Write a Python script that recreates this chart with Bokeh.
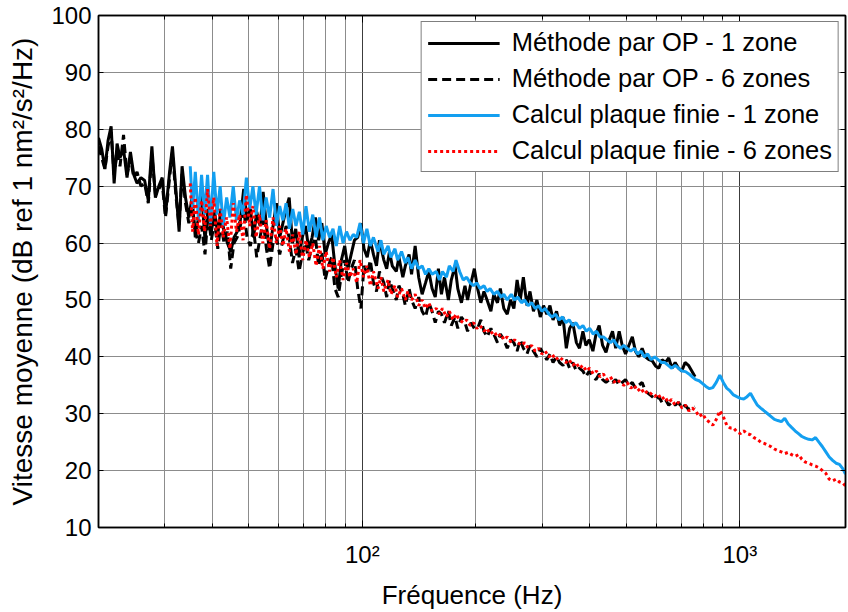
from bokeh.plotting import figure
from bokeh.models import FixedTicker, LogAxis, LinearAxis, Range1d, CustomJSTickFormatter
from bokeh.embed import file_html
from bokeh.resources import INLINE

# ---------------- data ----------------
x_major = [100, 1000]
x_tick_labels = ["10\u00b2", "10\u00b3"]
x_minor = [20, 30, 40, 50, 60, 70, 80, 90, 200, 300, 400, 500, 600, 700, 800, 900]
y_ticks = [10, 20, 30, 40, 50, 60, 70, 80, 90, 100]

series_names = ["Méthode par OP - 1 zone", "Méthode par OP - 6 zones",
                "Calcul plaque finie - 1 zone", "Calcul plaque finie - 6 zones"]

# frequencies of the "Méthode par OP" curves (Hz)
f_op = [20.0, 20.4, 20.8, 21.2, 21.6, 22.0, 22.4, 22.8, 23.3, 23.8,
        24.3, 24.8, 25.3, 25.9, 26.5, 27.1, 27.7, 28.3, 28.9, 29.5,
        30.1, 30.8, 31.4, 32.1, 32.7, 33.3, 34.0, 34.7, 35.4, 36.1,
        36.8, 37.5, 38.3, 39.0, 39.8, 40.6, 41.4, 42.2, 43.0, 43.9,
        44.8, 45.7, 46.6, 47.5, 48.5, 49.5, 50.5, 51.5, 52.5, 53.6,
        54.6, 55.7, 56.8, 58.0, 59.2, 60.4, 61.6, 62.8, 64.0, 65.3,
        66.6, 68.0, 69.3, 70.7, 72.1, 73.6, 75.1, 76.6, 78.1, 79.7,
        81.3, 82.9, 84.6, 86.3, 88.0, 89.8, 91.6, 93.4, 95.3, 97.2,
        99.1, 101, 103, 105, 107, 109, 111, 114, 116, 118,
        120, 123, 125, 128, 130, 133, 135, 138, 141, 144,
        147, 150, 153, 156, 159, 162, 165, 169, 172, 176,
        179, 183, 187, 190, 194, 198, 202, 206, 210, 214,
        219, 223, 228, 232, 237, 242, 247, 252, 257, 262,
        267, 273, 278, 284, 290, 296, 302, 308, 314, 320,
        327, 333, 340, 347, 354, 361, 369, 376, 384, 391,
        399, 408, 416, 424, 433, 442, 451, 460, 469, 479,
        488, 498, 508, 519, 529, 540, 551, 562, 574, 586,
        598, 610, 622, 635, 648, 661, 674, 688, 702, 716,
        731, 746, 761]

v_op1 = [78.5, 76.5, 73, 78, 80.5, 70.5, 77.5, 75, 76.5, 71.5,
         76, 72, 70.5, 71.5, 71, 67.5, 77, 68, 70, 71.5,
         65, 72, 77, 69, 62, 73.5, 68, 64.5, 68, 61,
         64.5, 69, 60.5, 66, 62, 65.5, 61.5, 66, 62, 60,
         58.5, 61, 62, 64, 69.5, 64, 66, 61, 65.5, 63,
         69, 63, 58.5, 63, 67, 61, 63.5, 66, 68, 60,
         62.5, 57.5, 61, 63, 59, 61, 64.5, 60.5, 63.5, 58,
         60, 61.5, 56, 52, 57, 59.5, 55.5, 58, 60.5, 61,
         63.5, 59, 57.5, 60.5, 58, 56, 60.5, 57, 55.5, 58.5,
         56, 55, 57.5, 54, 56, 58, 54.5, 59.5, 54, 51,
         53, 55, 52, 50.5, 55.5, 51, 54, 50, 53.5, 56,
         52, 49.5, 52.5, 50, 53, 55.5, 52, 49.5, 51.5, 50,
         48, 51, 49.5, 52, 48.5, 47.5, 50, 48.5, 53.5, 50,
         54, 49, 51.5, 48, 50, 47, 49, 47.5, 49, 46.5,
         48, 45.5, 47, 41.5, 45, 46, 42.5, 41.5, 44.5, 42,
         43, 41, 44, 45.5, 42, 40.8, 43, 44.5, 41.5, 44.5,
         42, 40.5, 42, 43.5, 41, 40, 41.5, 40, 39.5, 39.3,
         38.4, 38, 39.5, 39, 39.8, 38, 39, 38, 37.5, 39,
         38.5, 37.5, 36.5]

v_op6 = [77, 75, 73, 77, 79.5, 72, 76, 73.5, 79, 72,
         75, 71.5, 72.5, 70, 70.5, 67, 75.5, 68.5, 69.5, 70.5,
         64.5, 71, 76, 68, 63, 72.5, 67, 63.5, 66, 62,
         60, 63, 58, 65, 60.5, 64, 59, 63.5, 60, 62,
         55.5, 60, 61, 63, 66, 61, 59.5, 62.5, 57.5, 61,
         64, 59, 55.5, 60, 61, 58, 60.5, 63, 61, 56.5,
         59, 55, 58, 60, 57, 59.5, 61, 56, 58.5, 53.5,
         56, 57.5, 52, 50.5, 54.5, 57, 53, 55.5, 57, 52,
         48.5, 56, 54.5, 57, 53, 51.5, 55, 53, 50.5, 53.5,
         52, 50, 52.5, 51, 49, 52, 50, 48.5, 50.5, 48,
         47, 49.5, 48, 46, 48, 47.5, 46, 48, 45.5, 47,
         45, 47, 46, 44.5, 46, 45, 45, 46.5, 44.5, 43.5,
         45, 44, 42.5, 44, 43, 41.5, 43, 42.5, 41, 43,
         41.5, 40.5, 42, 41, 40, 41.5, 40.5, 39.5, 40.5, 39,
         40, 39, 38.5, 39.5, 38, 39, 37.5, 38, 37.5, 36.5,
         37.5, 36.5, 36, 37, 36, 35.5, 36, 35.5, 36, 35,
         35.5, 36, 35, 35.5, 34.5, 35, 35.5, 34, 33.5, 33,
         32.5, 33, 32, 32.5, 31.5, 32, 31.5, 32, 31, 31.5,
         30.8, 31, 31.2]

# frequencies of the "Calcul plaque finie" curves (Hz)
f_pf = [35.0, 35.5, 36.1, 36.8, 37.5, 38.2, 38.9, 39.6, 40.4, 41.2,
        42.0, 42.8, 43.7, 44.6, 45.5, 46.4, 47.3, 48.3, 49.3, 50.3,
        51.3, 52.3, 53.4, 54.5, 55.6, 56.8, 58.0, 59.2, 60.4, 61.6,
        62.8, 64.1, 65.4, 66.7, 68.1, 69.5, 70.9, 72.4, 73.9, 75.4,
        77.0, 78.6, 80.2, 81.9, 83.6, 85.3, 87.1, 88.9, 90.8, 92.7,
        94.6, 96.6, 98.6, 100.7, 102.8, 105, 107, 110, 112, 114,
        117, 119, 122, 124, 127, 130, 132, 135, 138, 141,
        144, 147, 150, 153, 157, 160, 163, 167, 170, 174,
        177, 181, 185, 189, 193, 197, 201, 205, 210, 214,
        218, 223, 228, 233, 237, 242, 248, 253, 258, 264,
        269, 275, 281, 287, 293, 299, 305, 312, 318, 325,
        332, 339, 346, 353, 361, 368, 376, 384, 392, 400,
        409, 417, 426, 435, 444, 454, 463, 473, 483, 493,
        503, 514, 525, 536, 547, 559, 570, 582, 595, 607,
        620, 633, 646, 660, 674, 688, 703, 718, 733, 748,
        764, 780, 797, 813, 831, 848, 866, 885, 904, 923,
        942, 962, 982, 1003, 1024, 1045, 1067, 1090, 1113, 1136,
        1160, 1185, 1210, 1235, 1261, 1288, 1315, 1343, 1371, 1400,
        1430, 1460, 1491, 1522, 1554, 1587, 1620, 1655, 1690, 1725,
        1761, 1798, 1836, 1875, 1905]

v_pf1 = [73.5, 66, 72.5, 64, 72, 65, 72, 63.5, 72.5, 65,
         70, 63, 68, 64.5, 70, 64, 67.5, 65, 71.5, 66,
         70, 65, 70, 64, 68, 64.5, 69.5, 63, 66.5, 64,
         67, 62.5, 66, 63, 65.5, 61.5, 66.5, 62, 65, 61,
         64.5, 60.5, 63, 61, 62.5, 59.5, 63, 60, 62, 60.5,
         61.5, 61, 63.5, 60, 62.5, 59.5, 61, 58.5, 60.5, 58,
         59.5, 57.5, 59, 57, 58.5, 56.5, 57.5, 55.5, 57, 55.5,
         56, 54.5, 55.5, 54.5, 55, 53.5, 55, 54, 56, 55,
         57, 55, 53.5, 54, 53, 52.5, 53, 52, 52.5, 51.5,
         52, 51, 51.5, 50.5, 51, 50, 51, 50, 50.5, 49.5,
         50, 49, 49.5, 48.5, 49, 48, 48.5, 47.5, 47, 47.5,
         46.5, 47, 46, 46.5, 45.5, 46, 45, 45.5, 44.5, 45,
         44, 44.5, 43.5, 43.5, 43, 42.5, 43, 42, 41.5, 42,
         41.5, 41, 41.5, 40.5, 41, 40, 40.5, 39.5, 40, 39.5,
         39, 39, 38.5, 38, 38.5, 38, 37.5, 37.4, 37, 36.5,
         36, 35.8, 35.3, 34.8, 34.4, 34.6, 35.5, 36.8, 35.5, 34.5,
         34, 33.3, 33, 32.7, 32.6, 33, 33.6, 32.5, 31.5, 31,
         30.5, 30, 29.5, 29, 28.8, 28.6, 29.2, 28.2, 27.6, 27,
         26.5, 26, 25.7, 25.5, 25.4, 25.8, 25, 24.2, 23.3, 22.4,
         21.8, 21.3, 21.1, 20.3, 19.4]

v_pf6 = [70.5, 62, 68, 61.5, 67.5, 62, 69.5, 63, 68, 59.5,
         66, 61, 64.5, 59, 67, 62, 65, 60.5, 68.5, 63,
         66.5, 61, 65, 60, 64, 59, 64.5, 60, 63, 59.5,
         62.5, 58.5, 61.5, 58, 62, 57, 60.5, 57.5, 60, 56,
         59.5, 55.5, 58.5, 55, 57.5, 54, 57, 53.5, 56.5, 54,
         55.5, 53, 57, 54, 56, 52.5, 55, 52, 54, 51.5,
         53.5, 51, 52.5, 50.5, 52, 50, 51.5, 50, 51, 49,
         50, 48.5, 49.5, 48, 48.5, 47.5, 48.5, 47, 48, 46.5,
         47.5, 46.5, 46, 46.5, 45.5, 46, 45, 45.5, 44.5, 45,
         44, 44.5, 43.5, 44, 43, 43.5, 42.5, 43, 42.5, 42,
         42.5, 41.5, 42, 41, 41.5, 40.5, 41, 40, 40.5, 39.5,
         40, 39.5, 39, 39.5, 38.5, 39, 38, 38.5, 37.5, 38,
         37, 37.5, 36.5, 37, 36, 36.5, 35.5, 36, 35.5, 35,
         35.5, 34.5, 35, 34, 34.5, 33.5, 34, 33.5, 33, 33.5,
         32.5, 33, 32, 32.5, 31.5, 32, 31, 31.5, 30.5, 31,
         30.5, 29.5, 30, 29, 28.5, 28, 29, 30.5, 29.5, 28,
         27.5, 27.5, 26.8, 26.5, 27, 26.5, 26.3, 25.8, 25.5, 25,
         24.8, 24.5, 24.2, 23.8, 23.5, 23.3, 23, 23.2, 22.8, 22.5,
         22.8, 22, 21.5, 21.3, 21, 20.8, 20.5, 20, 19.5, 18.5,
         18.2, 18.5, 18, 17.8, 17.3]

# ---------------- figure ----------------
FONT = "Liberation Sans"

p = figure(width=848, height=612, x_axis_type="log",
           x_range=Range1d(20, 1905), y_range=Range1d(10, 100),
           output_backend="svg", toolbar_location=None,
           min_border_left=98, min_border_right=3,
           min_border_top=15, min_border_bottom=82)
p.outline_line_color = "black"
p.outline_line_width = 1.5
p.background_fill_color = "white"
p.border_fill_color = "white"

xt = FixedTicker(ticks=x_major, minor_ticks=x_minor)
yt = FixedTicker(ticks=y_ticks, minor_ticks=[])

xfmt = CustomJSTickFormatter(args=dict(tvals=x_major, tlabels=x_tick_labels),
                             code="const i = tvals.indexOf(tick); return i >= 0 ? tlabels[i] : '';")

xa = p.xaxis[0]
xa.ticker = xt
xa.formatter = xfmt
xa.axis_label = "Fréquence (Hz)"
ya = p.yaxis[0]
ya.ticker = yt
ya.axis_label = "Vitesse moyenne (dB ref 1 nm²/s²/Hz)"

for ax, lab_size, axlab_size in ((xa, "24px", "26px"), (ya, "24px", "28px")):
    ax.major_label_text_font = FONT
    ax.major_label_text_font_size = lab_size
    ax.major_label_text_color = "black"
    ax.axis_label_text_font = FONT
    ax.axis_label_text_font_size = axlab_size
    ax.axis_label_text_font_style = "normal"
    ax.axis_label_text_color = "black"
    ax.axis_line_color = "black"
    ax.axis_line_width = 1.5
    ax.major_tick_line_color = "black"
    ax.minor_tick_line_color = "black"
    ax.major_tick_out = 0
    ax.minor_tick_out = 0

xa.major_tick_in = 7
xa.minor_tick_in = 4
xa.major_label_standoff = 13
xa.axis_label_standoff = 9
ya.major_tick_in = 5
ya.minor_tick_in = 0
ya.major_label_standoff = 7
ya.axis_label_standoff = 10

top = LogAxis(ticker=xt, formatter=CustomJSTickFormatter(code="return '';"),
              major_label_text_font_size="0px", major_label_standoff=0,
              major_tick_in=7, major_tick_out=0, minor_tick_in=4, minor_tick_out=0,
              axis_line_color="black", axis_line_width=1.5,
              major_tick_line_color="black", minor_tick_line_color="black")
right = LinearAxis(ticker=yt, formatter=CustomJSTickFormatter(code="return '';"),
                   major_label_text_font_size="0px", major_label_standoff=0,
                   major_tick_in=5, major_tick_out=0, minor_tick_in=0, minor_tick_out=0,
                   axis_line_color="black", axis_line_width=1.5,
                   major_tick_line_color="black")
p.add_layout(top, "above")
p.add_layout(right, "right")

p.xgrid.ticker = xt
p.ygrid.ticker = yt
p.xgrid.grid_line_color = "#3c3c3c"
p.xgrid.grid_line_width = 1
p.xgrid.minor_grid_line_color = "#8c8c8c"
p.xgrid.minor_grid_line_width = 1
p.ygrid.grid_line_color = "#8c8c8c"
p.ygrid.grid_line_width = 1

p.line(f_op, v_op1, line_color="black", line_width=3, legend_label=series_names[0])
p.line(f_op, v_op6, line_color="black", line_width=3, line_dash="9 5",
       legend_label=series_names[1])
p.line(f_pf, v_pf1, line_color="#139ff0", line_width=3, legend_label=series_names[2])
p.line(f_pf, v_pf6, line_color="#ff0000", line_width=3, line_dash="3 3",
       legend_label=series_names[3])

lg = p.legend[0]
lg.location = "top_right"
lg.margin = 6
lg.padding = 6
lg.spacing = 7
lg.label_text_font = FONT
lg.label_text_font_size = "25.5px"
lg.label_text_color = "black"
lg.glyph_width = 72
lg.glyph_height = 28
lg.label_height = 28
lg.label_standoff = 12
lg.border_line_color = "black"
lg.border_line_width = 1.5
lg.background_fill_color = "white"
lg.background_fill_alpha = 1

open("out.html", "w").write(file_html(p, INLINE))
